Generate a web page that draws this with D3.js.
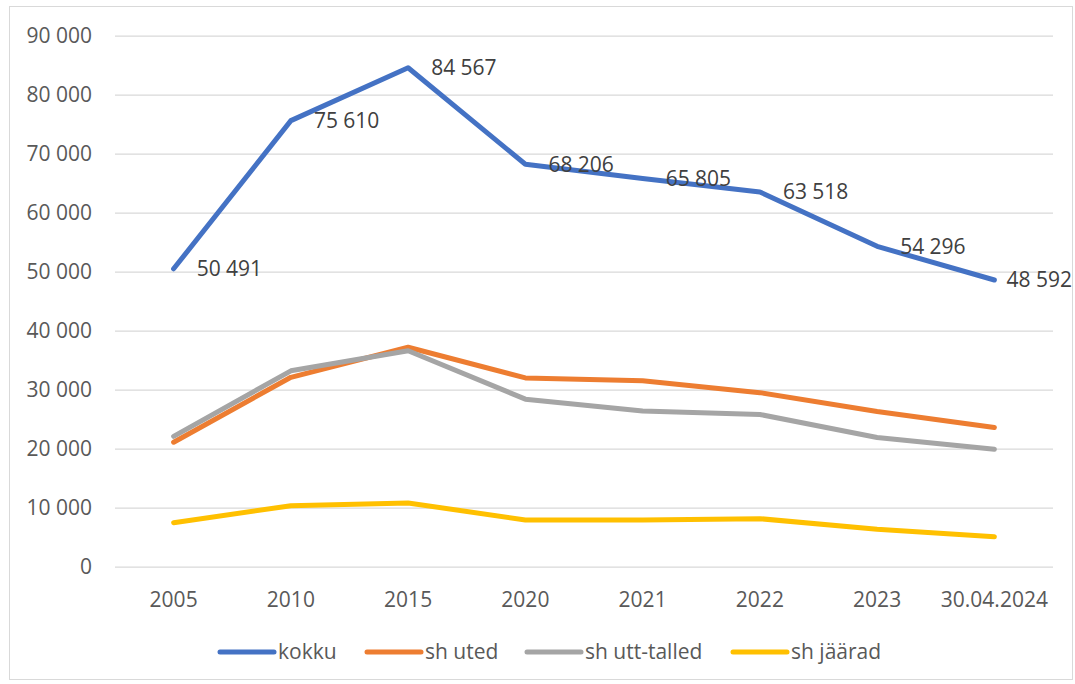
<!DOCTYPE html>
<html>
<head>
<meta charset="utf-8">
<script src="https://cdn.jsdelivr.net/npm/d3@7"></script>
<style>
  body { margin: 0; background: #fff; }
  svg { display: block; font-family: "Open Sans", sans-serif; }
</style>
</head>
<body>
<svg id="chart" width="1075" height="684"></svg>
<script>
const categories = ['2005', '2010', '2015', '2020', '2021', '2022', '2023', '30.04.2024'];

const kokku = [50491, 75610, 84567, 68206, 65805, 63518, 54296, 48592];
const shUted = [21100, 32100, 37200, 32000, 31500, 29500, 26300, 23600];
const shUttTalled = [22100, 33200, 36600, 28400, 26400, 25800, 21900, 19900];
const shJaarad = [7460, 10340, 10800, 7920, 7920, 8140, 6340, 5080];

const seriesNames = ['kokku', 'sh uted', 'sh utt-talled', 'sh jäärad'];
const seriesColors = ['#4472C4', '#ED7D31', '#A5A5A5', '#FFC000'];
const yTicks = [0, 10000, 20000, 30000, 40000, 50000, 60000, 70000, 80000, 90000];

const series = [kokku, shUted, shUttTalled, shJaarad].map((values, i) => ({
  name: seriesNames[i],
  color: seriesColors[i],
  values: values
}));

const locale = d3.formatLocale({decimal: ',', thousands: '\u00a0', grouping: [3], currency: ['', '']});
const fmt = locale.format(',d');

const svg = d3.select('#chart');

// outer chart border
svg.append('rect')
    .attr('x', 9.5).attr('y', 6.5)
    .attr('width', 1063).attr('height', 673)
    .attr('fill', 'none')
    .attr('stroke', '#d9d9d9');

const plotLeft = 115, plotRight = 1053, plotTop = 35.7, plotBottom = 566.7;

const x = d3.scaleBand()
    .domain(categories)
    .range([plotLeft, plotRight]);
const cx = c => x(c) + x.bandwidth() / 2;

const y = d3.scaleLinear()
    .domain([0, 90000])
    .range([plotBottom, plotTop]);

// y axis with gridlines
const yAxis = svg.append('g')
    .attr('transform', `translate(${plotLeft},0)`)
    .call(d3.axisLeft(y).tickValues(yTicks).tickSize(-(plotRight - plotLeft)).tickPadding(23).tickFormat(fmt));
yAxis.select('.domain').remove();
yAxis.selectAll('line').attr('stroke', '#d9d9d9').attr('stroke-width', 1.3);
yAxis.selectAll('text')
    .attr('fill', '#595959')
    .style('font-size', '21px')
    .style('font-family', '"Open Sans", sans-serif');

// x axis labels
svg.append('g')
  .selectAll('text')
  .data(categories)
  .join('text')
    .attr('x', d => cx(d))
    .attr('y', 600)
    .attr('dy', '0.35em')
    .attr('text-anchor', 'middle')
    .attr('fill', '#595959')
    .style('font-size', '21px')
    .text(d => d);

// lines
const line = d3.line()
    .x((d, i) => cx(categories[i]))
    .y(d => y(d));

svg.append('g')
  .selectAll('path')
  .data(series)
  .join('path')
    .attr('fill', 'none')
    .attr('stroke', d => d.color)
    .attr('stroke-width', 5)
    .attr('stroke-linejoin', 'round')
    .attr('stroke-linecap', 'round')
    .attr('d', d => line(d.values));

// data labels for kokku
svg.append('g')
  .selectAll('text')
  .data(kokku)
  .join('text')
    .attr('x', (d, i) => i === kokku.length - 1 ? 1072 : cx(categories[i]) + 23)
    .attr('y', d => y(d))
    .attr('dy', '0.35em')
    .attr('text-anchor', (d, i) => i === kokku.length - 1 ? 'end' : 'start')
    .attr('fill', '#404040')
    .style('font-size', '21px')
    .text(d => fmt(d));

// legend
const legendX = [220, 367, 527, 733];
const legend = svg.append('g')
  .selectAll('g')
  .data(series)
  .join('g')
    .attr('transform', (d, i) => `translate(${legendX[i]},652)`);
legend.append('line')
    .attr('x1', 0).attr('x2', 54)
    .attr('stroke', d => d.color)
    .attr('stroke-width', 5)
    .attr('stroke-linecap', 'round');
legend.append('text')
    .attr('x', 58)
    .attr('dy', '0.35em')
    .attr('fill', '#595959')
    .style('font-size', '21px')
    .text(d => d.name);
</script>
</body>
</html>
